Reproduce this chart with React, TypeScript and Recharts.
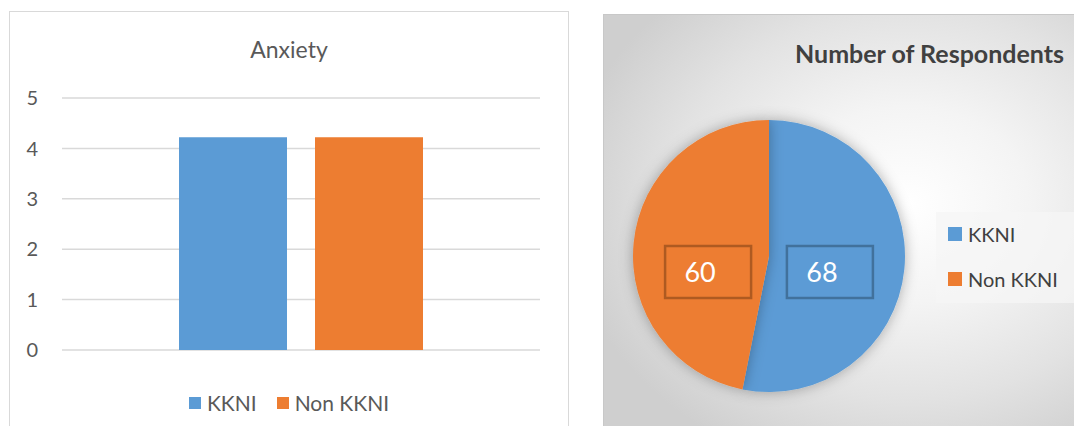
import { Bar, BarChart, CartesianGrid, Cell, Pie, PieChart, XAxis, YAxis } from "recharts"

const groups = [""]
const kkniAnxiety = [4.22]
const nonKkniAnxiety = [4.22]
const yTicks = [0, 1, 2, 3, 4, 5]

const respondentLabels = ["KKNI", "Non KKNI"]
const respondentCounts = [68, 60]

const BLUE = "#5b9bd5"
const ORANGE = "#ed7d31"
const BORDERS = ["#41719c", "#ae5a21"]
const FONT = "Lato, 'Open Sans', sans-serif"

const barData = groups.map((g, i) => ({ group: g, kkni: kkniAnxiety[i], nonKkni: nonKkniAnxiety[i] }))
const pieData = respondentLabels.map((name, i) => ({ name, value: respondentCounts[i] }))
const pieColors = [BLUE, ORANGE]

const RADIAN = Math.PI / 180

function SliceLabel(props: any) {
  const { cx, cy, midAngle, outerRadius, value, index } = props
  const r = outerRadius * 0.45
  const x = cx + r * Math.cos(-midAngle * RADIAN)
  const y = cy + 16
  return (
    <g>
      <rect x={x - 43} y={y - 26} width={86} height={52} fill="none" stroke={BORDERS[index]} strokeWidth={2.5} />
      <text x={x - 8} y={y + 10} textAnchor="middle" fill="#ffffff" fontSize={27} fontFamily={FONT}>
        {value}
      </text>
    </g>
  )
}

export default function App() {
  return (
    <div style={{ position: "relative", width: 1082, height: 434, margin: -8, overflow: "hidden", background: "#fff" }}>
      {/* left panel: bar chart */}
      <div
        style={{
          position: "absolute",
          left: 9,
          top: 11,
          width: 558,
          height: 430,
          border: "1px solid #d9d9d9",
          background: "#fff",
        }}
      >
        <div
          style={{
            position: "absolute",
            top: 23,
            width: "100%",
            textAlign: "center",
            fontFamily: FONT,
            fontSize: 23,
            color: "#595959",
          }}
        >
          Anxiety
        </div>
        <BarChart width={558} height={422} data={barData} margin={{ top: 86, right: 28, bottom: 84, left: 0 }} barGap={28}>
          <CartesianGrid vertical={false} stroke="#d9d9d9" strokeWidth={1.5} />
          <XAxis dataKey="group" hide />
          <YAxis
            domain={[0, 5]}
            ticks={yTicks}
            width={52}
            axisLine={false}
            tickLine={false}
            tickSize={0}
            tickMargin={24}
            tick={{ fontSize: 20, fill: "#595959", fontFamily: FONT }}
          />
          <Bar dataKey="kkni" name="KKNI" fill={BLUE} barSize={108} isAnimationActive={false} />
          <Bar dataKey="nonKkni" name="Non KKNI" fill={ORANGE} barSize={108} isAnimationActive={false} />
        </BarChart>
        <div
          style={{
            position: "absolute",
            top: 378,
            width: "100%",
            display: "flex",
            justifyContent: "center",
            gap: 20,
            fontFamily: FONT,
            fontSize: 21,
            color: "#595959",
          }}
        >
          {respondentLabels.map((label, i) => (
            <div key={label} style={{ display: "flex", alignItems: "center" }}>
              <span style={{ width: 12, height: 12, background: pieColors[i], marginRight: 6, display: "inline-block" }} />
              {label}
            </div>
          ))}
        </div>
      </div>

      {/* right panel: pie chart */}
      <div
        style={{
          position: "absolute",
          left: 603,
          top: 14,
          width: 490,
          height: 430,
          border: "1px solid #c8c8c8",
          background: "radial-gradient(ellipse 70% 65% at 62% 44%, #ffffff 0%, #f4f4f4 35%, #e2e2e2 70%, #cfcfcf 100%)",
        }}
      >
        <div
          style={{
            position: "absolute",
            top: 23,
            left: 191,
            fontFamily: FONT,
            fontWeight: 700,
            fontSize: 25,
            color: "#404040",
            whiteSpace: "nowrap",
          }}
        >
          Number of Respondents
        </div>
        <PieChart width={479} height={420} margin={{ top: 0, right: 0, bottom: 0, left: 0 }}>
          <defs>
            <filter id="pieShadow" x="-20%" y="-20%" width="140%" height="140%">
              <feDropShadow dx="0" dy="0" stdDeviation="7" floodColor="#000" floodOpacity="0.3" />
            </filter>
          </defs>
          <Pie
            data={pieData}
            dataKey="value"
            nameKey="name"
            cx={165}
            cy={241}
            outerRadius={136}
            startAngle={90}
            endAngle={-270}
            stroke="none"
            label={SliceLabel}
            labelLine={false}
            style={{ filter: "url(#pieShadow)" }}
            isAnimationActive={false}
          >
            {pieData.map((d, i) => (
              <Cell key={d.name} fill={pieColors[i]} />
            ))}
          </Pie>
        </PieChart>
        <div
          style={{
            position: "absolute",
            left: 332,
            top: 197,
            width: 141,
            height: 91,
            background: "rgba(245,245,245,0.75)",
            fontFamily: FONT,
            fontSize: 20,
            color: "#404040",
          }}
        >
          {respondentLabels.map((label, i) => (
            <div key={label} style={{ position: "absolute", left: 12, top: 10 + i * 45, display: "flex", alignItems: "center" }}>
              <span style={{ width: 14, height: 14, background: pieColors[i], marginRight: 6, display: "inline-block" }} />
              {label}
            </div>
          ))}
        </div>
      </div>
    </div>
  )
}
